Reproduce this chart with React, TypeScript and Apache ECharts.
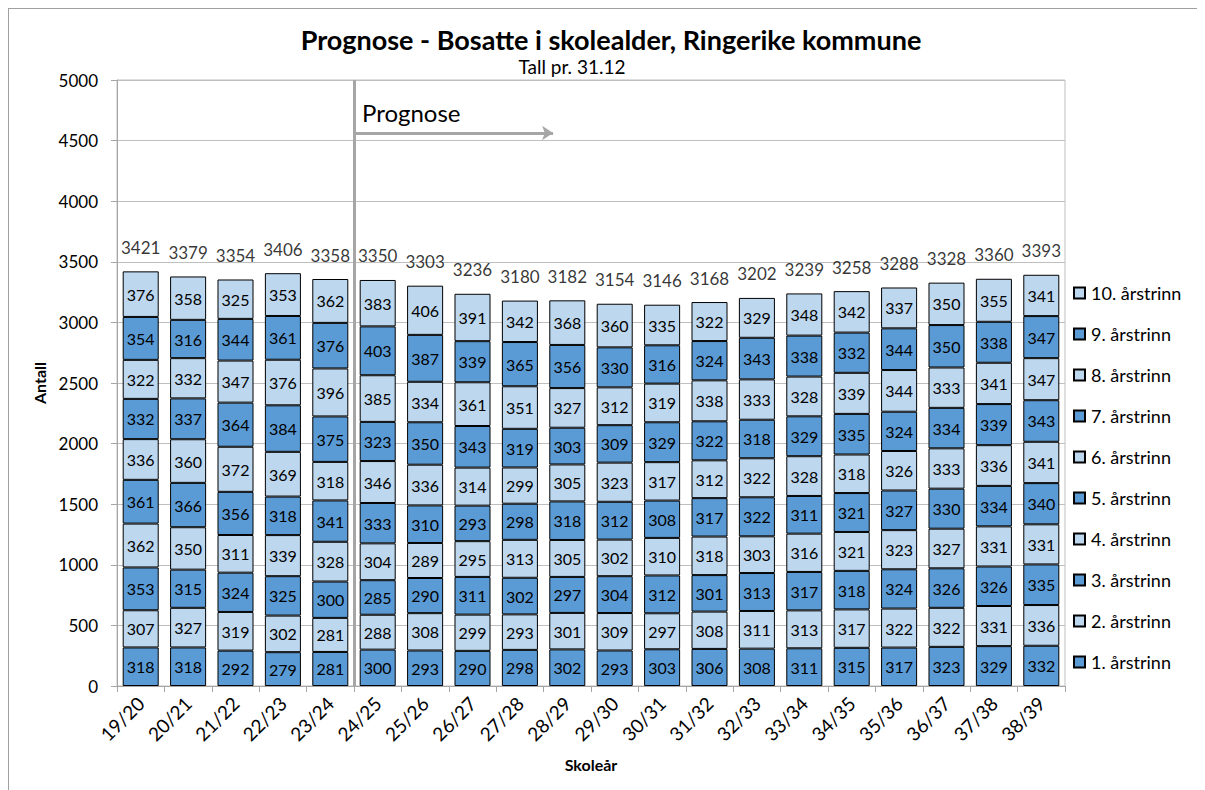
import React, { useEffect, useRef } from "react";
import * as echarts from "echarts";

const categories = ["19/20","20/21","21/22","22/23","23/24","24/25","25/26","26/27","27/28","28/29","29/30","30/31","31/32","32/33","33/34","34/35","35/36","36/37","37/38","38/39"];

const grade1 = [318,318,292,279,281,300,293,290,298,302,293,303,306,308,311,315,317,323,329,332];
const grade2 = [307,327,319,302,281,288,308,299,293,301,309,297,308,311,313,317,322,322,331,336];
const grade3 = [353,315,324,325,300,285,290,311,302,297,304,312,301,313,317,318,324,326,326,335];
const grade4 = [362,350,311,339,328,304,289,295,313,305,302,310,318,303,316,321,323,327,331,331];
const grade5 = [361,366,356,318,341,333,310,293,298,318,312,308,317,322,311,321,327,330,334,340];
const grade6 = [336,360,372,369,318,346,336,314,299,305,323,317,312,322,328,318,326,333,336,341];
const grade7 = [332,337,364,384,375,323,350,343,319,303,309,329,322,318,329,335,324,334,339,343];
const grade8 = [322,332,347,376,396,385,334,361,351,327,312,319,338,333,328,339,344,333,341,347];
const grade9 = [354,316,344,361,376,403,387,339,365,356,330,316,324,343,338,332,344,350,338,347];
const grade10 = [376,358,325,353,362,383,406,391,342,368,360,335,322,329,348,342,337,350,355,341];
const totals = [3421,3379,3354,3406,3358,3350,3303,3236,3180,3182,3154,3146,3168,3202,3239,3258,3288,3328,3360,3393];

const gradeNames = ["1. årstrinn","2. årstrinn","3. årstrinn","4. årstrinn","5. årstrinn","6. årstrinn","7. årstrinn","8. årstrinn","9. årstrinn","10. årstrinn"];
const gradeData = [grade1, grade2, grade3, grade4, grade5, grade6, grade7, grade8, grade9, grade10];

const DARK = "#5B9BD5";
const LIGHT = "#BDD7EE";
const FONT = "Lato";

export default function App() {
  const ref = useRef<HTMLDivElement>(null);
  useEffect(() => {
    if (!ref.current) return;
    const chart = echarts.init(ref.current, undefined, { renderer: "svg" });
    const barSeries = gradeData.map((d, i) => ({
      name: gradeNames[i],
      type: "bar",
      stack: "total",
      data: d,
      barCategoryGap: "24%",
      itemStyle: { color: i % 2 === 0 ? DARK : LIGHT, borderColor: "#000", borderWidth: 1 },
      label: { show: true, position: "inside", color: "#000", fontSize: 16, fontFamily: FONT },
      emphasis: { disabled: true },
    }));
    chart.setOption({
      animation: false,
      textStyle: { fontFamily: FONT },
      title: [
        { text: "Prognose - Bosatte i skolealder, Ringerike kommune", left: 602, top: 17, padding: 0, textAlign: "center",
          textStyle: { fontSize: 27, fontWeight: "bold", color: "#000", fontFamily: FONT } },
        { text: "Tall pr. 31.12", left: 563, top: 48, padding: 0, textAlign: "center",
          textStyle: { fontSize: 19, fontWeight: "normal", color: "#000", fontFamily: FONT } },
      ],
      grid: { left: 108, top: 71, right: 139, bottom: 104, show: true, borderColor: "#bfbfbf", borderWidth: 1, containLabel: false },
      legend: {
        data: [...gradeNames].reverse(),
        orient: "vertical",
        left: 1064,
        top: 275,
        padding: 0,
        itemGap: 23,
        itemWidth: 11,
        itemHeight: 11,
        icon: "rect",
        textStyle: { fontSize: 18, color: "#000", fontFamily: FONT, padding: [0, 0, 0, 1] },
        selectedMode: false,
      },
      xAxis: [
        {
          type: "category",
          data: categories,
          name: "Skoleår",
          nameLocation: "middle",
          nameGap: 70,
          nameTextStyle: { fontSize: 16, fontWeight: "bold", color: "#000" },
          axisLine: { lineStyle: { color: "#a6a6a6" } },
          axisTick: { show: true, length: 6, lineStyle: { color: "#a6a6a6" } },
          axisLabel: { rotate: 45, fontSize: 19, color: "#000", margin: 14 },
        },
        { type: "value", min: 0, max: 20, show: false },
      ],
      yAxis: {
        type: "value",
        min: 0,
        max: 5000,
        interval: 500,
        name: "Antall",
        nameLocation: "middle",
        nameGap: 69,
        nameTextStyle: { fontSize: 16, fontWeight: "bold", color: "#000" },
        axisLine: { show: true, lineStyle: { color: "#a6a6a6" } },
        axisTick: { show: true, length: 6, lineStyle: { color: "#a6a6a6" } },
        axisLabel: { fontSize: 17, color: "#000", margin: 19, formatter: (v: number) => String(v) },
        splitLine: { lineStyle: { color: "#bfbfbf" } },
      },
      series: [
        ...barSeries,
        {
          name: "Total",
          type: "scatter",
          data: totals,
          symbol: "rect",
          symbolSize: 1,
          itemStyle: { color: "rgba(0,0,0,0)" },
          label: { show: true, position: "top", distance: 15, color: "#000", fontSize: 17, fontFamily: FONT, formatter: "{c}" },
          silent: true,
          z: 10,
        },
        {
          name: "annotations",
          type: "line",
          xAxisIndex: 1,
          yAxisIndex: 0,
          data: [],
          silent: true,
          markLine: {
            silent: true,
            animation: false,
            symbol: ["none", "none"],
            lineStyle: { color: "#a6a6a6", width: 3, type: "solid" },
            label: { show: false },
            data: [
              [{ coord: [5, 0] }, { coord: [5, 5000] }],
              [
                { coord: [5, 4563], symbol: "none",
                  label: { show: true, formatter: "Prognose", position: "insideStartTop", fontSize: 24, color: "#000", fontFamily: FONT, distance: 8 } },
                { coord: [9.2, 4563], symbol: "arrow", symbolSize: 11 },
              ],
            ],
          },
        },
      ],
    });
    return () => chart.dispose();
  }, []);
  return (
    <div
      ref={ref}
      style={{ width: 1195, height: 781, borderTop: "1px solid #a0a0a0", borderLeft: "1px solid #a0a0a0", borderRight: "1px solid #d0d0d0" }}
    />
  );
}
